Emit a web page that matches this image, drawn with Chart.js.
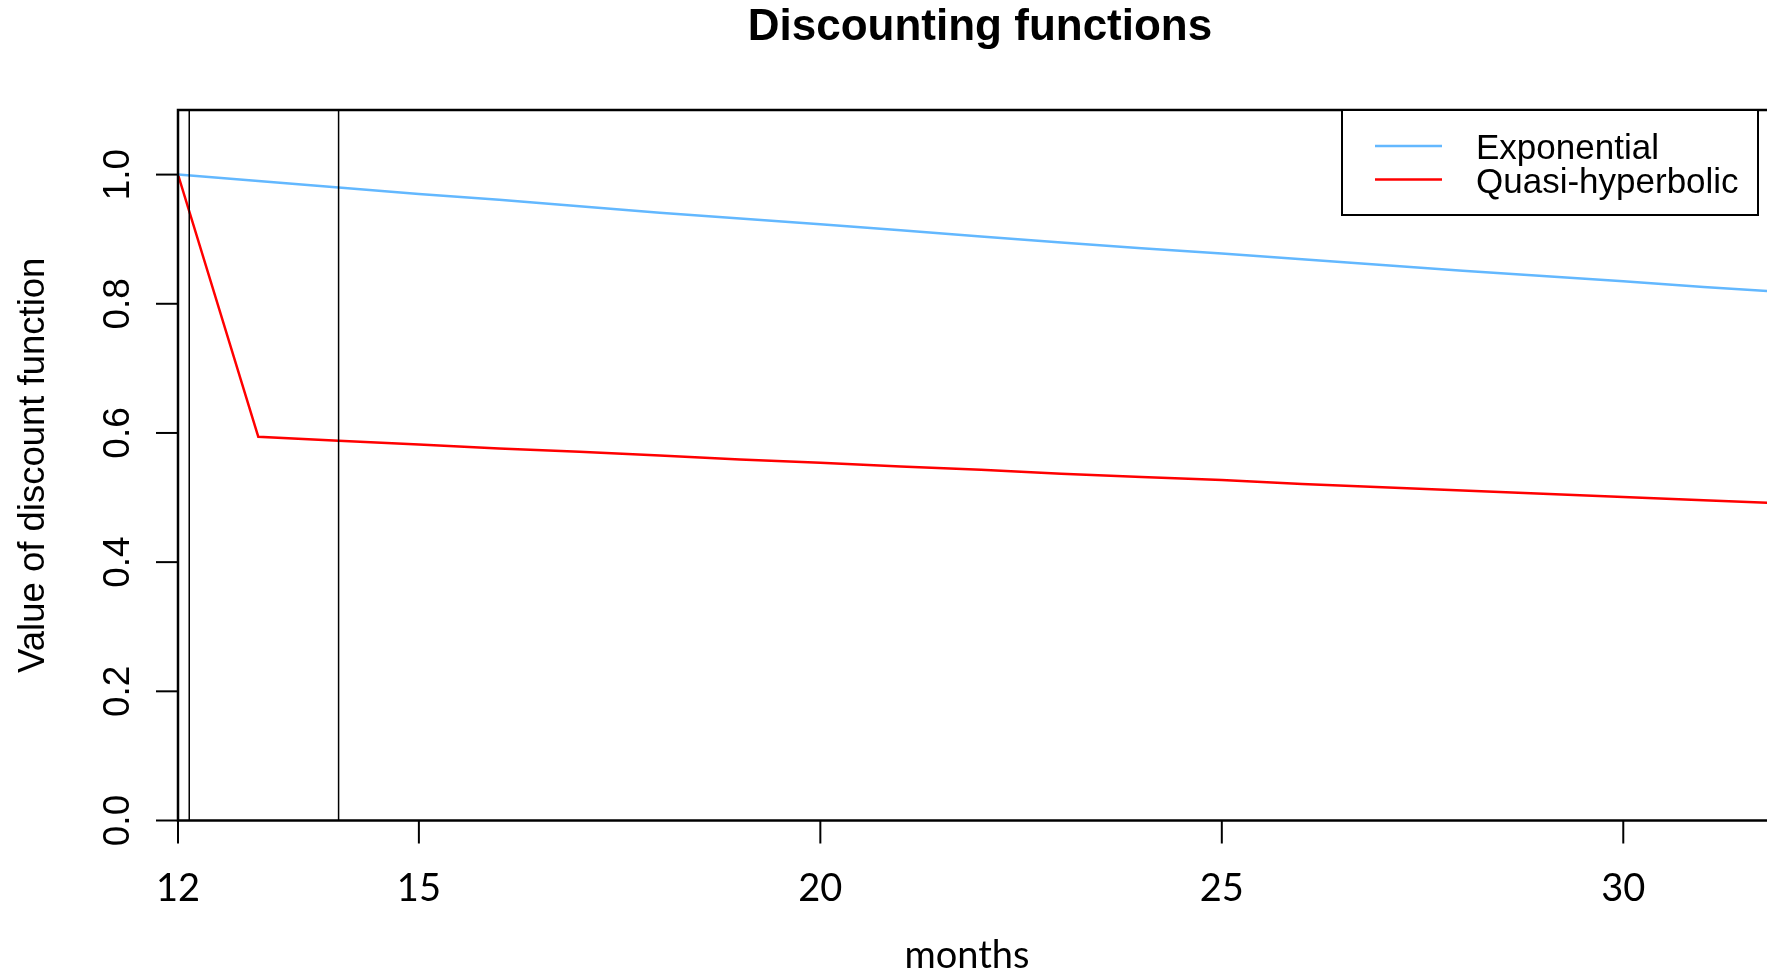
<!DOCTYPE html>
<html>
<head>
<meta charset="utf-8">
<title>Discounting functions</title>
<script src="https://cdn.jsdelivr.net/npm/chart.js"></script>
<style>
  html, body { margin: 0; padding: 0; background: #fff; }
</style>
</head>
<body>
<canvas id="discount" width="1767" height="974"></canvas>
<script>
// values
const months = [12, 13, 14, 15, 16, 17, 18, 19, 20, 21, 22, 23, 24, 25, 26, 27, 28, 29, 30, 31, 32];
const exponential = [1.000, 0.990, 0.980, 0.970, 0.961, 0.951, 0.941, 0.932, 0.923, 0.914, 0.904,
                     0.895, 0.886, 0.878, 0.869, 0.860, 0.851, 0.843, 0.835, 0.826, 0.818];
const quasiHyperbolic = [1.000, 0.594, 0.588, 0.582, 0.576, 0.571, 0.565, 0.559, 0.554, 0.548, 0.543,
                         0.537, 0.532, 0.527, 0.521, 0.516, 0.511, 0.506, 0.501, 0.496, 0.491];
const xTicks = [12, 15, 20, 25, 30];
const yTicks = [0.0, 0.2, 0.4, 0.6, 0.8, 1.0];
const markers = [12, 12.14, 14];
const seriesNames = ["Exponential", "Quasi-hyperbolic"];

const sans = "'Liberation Sans', Arial, sans-serif";
const humanist = "Lato, 'Open Sans', sans-serif";

function points(ys) {
  return months.map((m, i) => ({ x: m, y: ys[i] }));
}

// R style frame, ticks, labels, marker lines and legend
const rPlot = {
  id: "rPlot",
  afterDatasetsDraw(chart) {
    const ctx = chart.ctx;
    const area = chart.chartArea;
    const x = chart.scales.x;
    const y = chart.scales.y;
    ctx.save();
    ctx.strokeStyle = "#000";
    ctx.fillStyle = "#000";

    // vertical marker lines
    ctx.lineWidth = 1.5;
    markers.forEach(m => {
      const px = x.getPixelForValue(m);
      ctx.beginPath();
      ctx.moveTo(px, area.top);
      ctx.lineTo(px, area.bottom);
      ctx.stroke();
    });

    // box (right side is cut off in the picture)
    ctx.lineWidth = 2.5;
    ctx.beginPath();
    ctx.moveTo(area.right + 5, area.top);
    ctx.lineTo(area.left, area.top);
    ctx.lineTo(area.left, area.bottom);
    ctx.lineTo(area.right + 5, area.bottom);
    ctx.stroke();

    // tick marks
    ctx.lineWidth = 2;
    xTicks.forEach(t => {
      const px = x.getPixelForValue(t);
      ctx.beginPath();
      ctx.moveTo(px, area.bottom);
      ctx.lineTo(px, area.bottom + 23);
      ctx.stroke();
    });
    yTicks.forEach(t => {
      const py = y.getPixelForValue(t);
      ctx.beginPath();
      ctx.moveTo(area.left, py);
      ctx.lineTo(area.left - 22, py);
      ctx.stroke();
    });

    // x tick labels
    ctx.font = "38px " + humanist;
    ctx.textAlign = "center";
    ctx.textBaseline = "alphabetic";
    xTicks.forEach(t => {
      ctx.fillText(String(t), x.getPixelForValue(t), 901);
    });

    // y tick labels, parallel to the axis
    ctx.font = "37px " + sans;
    yTicks.forEach(t => {
      ctx.save();
      ctx.translate(129, y.getPixelForValue(t));
      ctx.rotate(-Math.PI / 2);
      ctx.fillText(t.toFixed(1), 0, 0);
      ctx.restore();
    });

    // axis titles
    ctx.font = "38px " + humanist;
    ctx.fillText("months", 967, 968);
    ctx.save();
    ctx.font = "36.5px " + sans;
    ctx.translate(44, (area.top + area.bottom) / 2);
    ctx.rotate(-Math.PI / 2);
    ctx.fillText("Value of discount function", 0, 0);
    ctx.restore();

    // main title
    ctx.font = "bold 44px " + sans;
    ctx.fillText("Discounting functions", 980, 40);

    // legend
    const lx = 1342, ly = area.top, lw = 416, lh = 105;
    ctx.fillStyle = "#fff";
    ctx.fillRect(lx, ly, lw, lh);
    ctx.lineWidth = 2;
    ctx.strokeRect(lx, ly, lw, lh);
    ctx.font = "35px " + sans;
    ctx.textAlign = "left";
    chart.data.datasets.forEach((ds, i) => {
      const rowY = ly + 36 + i * 33.5;
      ctx.strokeStyle = ds.borderColor;
      ctx.lineWidth = 2.5;
      ctx.beginPath();
      ctx.moveTo(lx + 33, rowY);
      ctx.lineTo(lx + 100, rowY);
      ctx.stroke();
      ctx.fillStyle = "#000";
      ctx.fillText(ds.label, lx + 134, rowY + 13);
    });
    ctx.restore();
  }
};

new Chart(document.getElementById("discount"), {
  type: "line",
  data: {
    datasets: [
      {
        label: seriesNames[0],
        data: points(exponential),
        borderColor: "rgb(99, 184, 255)",
        borderWidth: 2.5,
        pointRadius: 0,
        tension: 0,
      },
      {
        label: seriesNames[1],
        data: points(quasiHyperbolic),
        borderColor: "rgb(255, 0, 0)",
        borderWidth: 2.5,
        pointRadius: 0,
        tension: 0,
      },
    ],
  },
  options: {
    responsive: false,
    animation: false,
    devicePixelRatio: 1,
    layout: { padding: { top: 110, left: 0, right: 0, bottom: 0 } },
    plugins: {
      legend: { display: false },
      title: { display: false },
      tooltip: { enabled: false },
    },
    scales: {
      x: {
        type: "linear",
        min: 12,
        max: 31.79,
        grid: { display: false },
        border: { display: false },
        ticks: { display: false },
        afterBuildTicks: s => { s.ticks = xTicks.map(v => ({ value: v })); },
        afterFit: s => { s.height = 153.5; },
      },
      y: {
        min: 0,
        max: 1.1,
        grid: { display: false },
        border: { display: false },
        ticks: { display: false },
        afterBuildTicks: s => { s.ticks = yTicks.map(v => ({ value: v })); },
        afterFit: s => { s.width = 178; },
      },
    },
  },
  plugins: [rPlot],
});
</script>
</body>
</html>
